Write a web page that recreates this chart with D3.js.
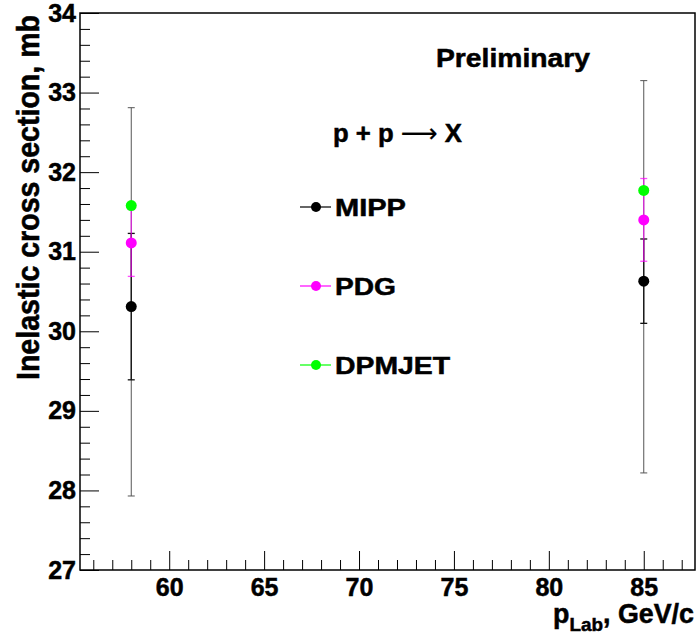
<!DOCTYPE html>
<html>
<head>
<meta charset="utf-8">
<script src="https://cdn.jsdelivr.net/npm/d3@7"></script>
<style>
  body { margin: 0; background: #fff; }
  svg { display: block; font-family: 'Liberation Sans', Arial, sans-serif; font-weight: bold; }
  svg text { fill: #000; stroke: #000; stroke-width: 0.5px; }
</style>
</head>
<body>
<div id="chart"></div>
<script>
// beam momenta, GeV/c
var energies = [58, 85];
// MIPP measurement: value, stat error, total error up/down (mb)
var mippValues = [30.31, 30.63];
var mippStatErr = [0.92, 0.53];
var mippTotalUp = [2.50, 2.52];
var mippTotalDown = [2.38, 2.41];
// PDG fit
var pdgValues = [31.11, 31.40];
var pdgErr = [0.42, 0.52];
// DPMJET prediction
var dpmjetValues = [31.58, 31.77];

var legendNames = ['MIPP', 'PDG', 'DPMJET'];
var legendColors = ['#000000', '#ff00ff', '#00ff00'];

var xRange = [55.3, 87.7];
var yRange = [27, 34];
var xMajorTicks = [60, 65, 70, 75, 80, 85];
var yMajorTicks = [27, 28, 29, 30, 31, 32, 33, 34];

(function(){
  var W = 697, H = 635;
  var frame = { left: 80, right: 695, top: 13, bottom: 570 };

  var svg = d3.select('#chart').append('svg')
    .attr('width', W).attr('height', H);

  var x = d3.scaleLinear().domain(xRange).range([frame.left, frame.right]);
  var y = d3.scaleLinear().domain(yRange).range([frame.bottom, frame.top]);

  // minor ticks
  var xMinor = d3.range(56, 88, 1).filter(function(v){ return xMajorTicks.indexOf(v) < 0; });
  var yMinor = d3.range(27, 34.001, 0.2).filter(function(v){ return Math.abs(v - Math.round(v)) > 0.01; });

  svg.append('g')
    .attr('transform', 'translate(0,' + frame.bottom + ')')
    .call(d3.axisBottom(x).tickValues(xMinor).tickSize(-10).tickFormat(''));
  var gx = svg.append('g')
    .attr('transform', 'translate(0,' + frame.bottom + ')')
    .call(d3.axisBottom(x).tickValues(xMajorTicks).tickSizeInner(-19).tickSizeOuter(0).tickPadding(8).tickFormat(d3.format('d')));
  gx.selectAll('text').style('font-size', '25px');

  svg.append('g')
    .attr('transform', 'translate(' + frame.left + ',0)')
    .call(d3.axisLeft(y).tickValues(yMinor).tickSize(-10).tickFormat(''));
  var gy = svg.append('g')
    .attr('transform', 'translate(' + frame.left + ',0)')
    .call(d3.axisLeft(y).tickValues(yMajorTicks).tickSizeInner(-19).tickSizeOuter(0).tickPadding(4).tickFormat(d3.format('d')));
  gy.selectAll('text').style('font-size', '25px');

  svg.selectAll('g').attr('font-family', null).attr('font-size', null);
  svg.selectAll('.domain').remove();
  svg.selectAll('.tick line').attr('stroke', '#000').attr('stroke-width', 1);

  // frame
  svg.append('rect')
    .attr('x', frame.left).attr('y', frame.top)
    .attr('width', frame.right - frame.left).attr('height', frame.bottom - frame.top)
    .attr('fill', 'none').attr('stroke', '#000').attr('stroke-width', 1.5);

  // error bars
  function errBar(vals, up, down, color, opacity, sw){
    var g = svg.append('g').attr('stroke', color).attr('stroke-opacity', opacity).attr('stroke-width', sw);
    energies.forEach(function(e, i){
      var cx = x(e), y0 = y(vals[i] - down[i]), y1 = y(vals[i] + up[i]);
      g.append('line').attr('x1', cx).attr('x2', cx).attr('y1', y0).attr('y2', y1);
      [y0, y1].forEach(function(yy){
        g.append('line').attr('x1', cx - 3.5).attr('x2', cx + 3.5).attr('y1', yy).attr('y2', yy);
      });
    });
  }
  errBar(mippValues, mippTotalUp, mippTotalDown, '#555555', 1, 1);
  errBar(mippValues, mippStatErr, mippStatErr, '#111111', 1, 1.3);
  errBar(pdgValues, pdgErr, pdgErr, '#ff00ff', 0.7, 1.3);

  function markers(vals, color){
    svg.append('g').selectAll('circle')
      .data(vals).enter().append('circle')
      .attr('cx', function(d, i){ return x(energies[i]); })
      .attr('cy', function(d){ return y(d); })
      .attr('r', 5.5)
      .attr('fill', color);
  }
  markers(mippValues, legendColors[0]);
  markers(pdgValues, legendColors[1]);
  markers(dpmjetValues, legendColors[2]);

  // legend
  var legY = [207, 286, 365];
  var legLen = [71, 61, 115];
  legendNames.forEach(function(name, i){
    var g = svg.append('g').attr('transform', 'translate(0,' + legY[i] + ')');
    g.append('line').attr('x1', 300).attr('x2', 331).attr('y1', 0).attr('y2', 0)
      .attr('stroke', legendColors[i]).attr('stroke-width', 1.2);
    g.append('circle').attr('cx', 316).attr('cy', 0).attr('r', 5).attr('fill', legendColors[i]);
    g.append('text').attr('x', 335).attr('y', 0).attr('dy', '0.36em')
      .attr('textLength', legLen[i]).attr('lengthAdjust', 'spacingAndGlyphs')
      .style('font-size', '24px').text(name);
  });

  svg.append('text').attr('x', 436).attr('y', 67)
    .attr('textLength', 154).attr('lengthAdjust', 'spacingAndGlyphs')
    .style('font-size', '25px').text('Preliminary');

  var pp = svg.append('text').attr('x', 333).attr('y', 142)
    .attr('textLength', 129).attr('lengthAdjust', 'spacingAndGlyphs')
    .style('font-size', '26px');
  pp.append('tspan').text('p + p ');
  pp.append('tspan').style('font-family', "'DejaVu Sans'").style('font-weight', 'normal')
    .style('stroke-width', '0.2px').text('\u27F6');
  pp.append('tspan').text(' X');

  // axis titles (glyphs a bit taller than the font's own proportions, as in the reference)
  svg.append('text')
    .attr('transform', 'translate(39,380) rotate(-90) scale(1,1.12)')
    .attr('textLength', 365).attr('lengthAdjust', 'spacingAndGlyphs')
    .style('font-size', '28.5px')
    .text('Inelastic cross section, mb');

  var xt = svg.append('text').attr('x', 553).attr('y', 623)
    .attr('textLength', 141).attr('lengthAdjust', 'spacingAndGlyphs')
    .style('font-size', '27px');
  xt.append('tspan').text('p');
  xt.append('tspan').attr('dy', 8).style('font-size', '19px').text('Lab');
  xt.append('tspan').attr('dy', -8).text(', GeV/c');
})();
</script>
</body>
</html>
